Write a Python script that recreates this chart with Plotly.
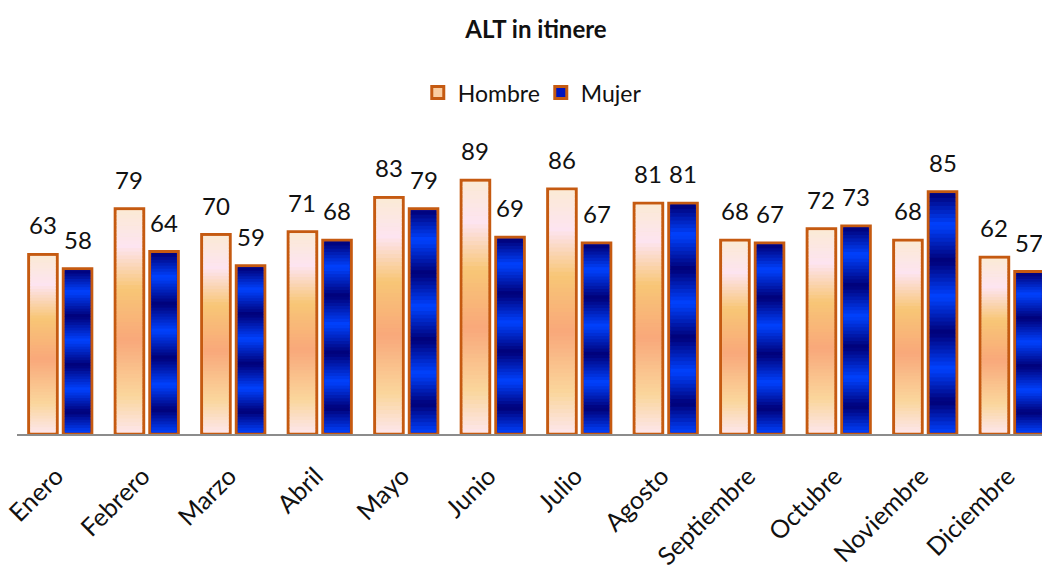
import plotly.graph_objects as go

months = ["Enero", "Febrero", "Marzo", "Abril", "Mayo", "Junio", "Julio",
          "Agosto", "Septiembre", "Octubre", "Noviembre", "Diciembre"]
hombre = [63, 79, 70, 71, 83, 89, 86, 81, 68, 72, 68, 62]
mujer = [58, 64, 59, 68, 79, 69, 67, 81, 67, 73, 85, 57]

# gradient stops (t = 0 top of bar, 1 bottom)
hombre_stops = [(0.00, (251, 234, 214)), (0.16, (253, 228, 240)), (0.35, (248, 198, 118)),
                (0.58, (249, 168, 122)), (0.83, (250, 214, 156)), (1.00, (253, 230, 236))]
DARK, BRIGHT = (0, 0, 120), (0, 66, 255)
mujer_stops = [(0.00, DARK), (0.13, BRIGHT), (0.28, DARK), (0.43, BRIGHT), (0.58, DARK),
               (0.73, BRIGHT), (0.87, DARK), (1.00, BRIGHT)]

OUTLINE = "#C55A11"
FONT = "Lato"
N = 60
BAR_W = 0.33
CENTER = {"H": -0.2, "M": 0.2}
INSET_X = 0.018
INSET_Y = 0.5
OVERLAP = 0.25


def grad(stops, t):
    for (t0, c0), (t1, c1) in zip(stops[:-1], stops[1:]):
        if t0 <= t <= t1:
            f = (t - t0) / (t1 - t0)
            c = [round(a + (b - a) * f) for a, b in zip(c0, c1)]
            return f"rgb({c[0]},{c[1]},{c[2]})"
    c = stops[-1][1]
    return f"rgb({c[0]},{c[1]},{c[2]})"


xs = list(range(len(months)))
fig = go.Figure()


def add_series(name, key, vals, stops, legend_color):
    off = CENTER[key] - BAR_W / 2
    fig.add_trace(go.Bar(
        x=xs, y=vals, base=0, name=name, offset=off, width=BAR_W,
        marker=dict(color=legend_color, line=dict(color=OUTLINE, width=3)),
        hovertemplate=name + ": %{y}<extra></extra>", cliponaxis=True))
    for k in range(N):
        t = 1 - (k + 0.5) / N
        ov = OVERLAP if k > 0 else 0
        fig.add_trace(go.Bar(
            x=xs,
            y=[(v - 2 * INSET_Y) / N + ov for v in vals],
            base=[INSET_Y + (v - 2 * INSET_Y) * k / N - ov for v in vals],
            offset=off + INSET_X, width=BAR_W - 2 * INSET_X,
            marker=dict(color=grad(stops, t), line=dict(width=0)),
            showlegend=False, hoverinfo="skip"))


add_series("Hombre", "H", hombre, hombre_stops, "rgb(250,205,160)")
add_series("Mujer", "M", mujer, mujer_stops, "rgb(0,20,190)")

for key, vals in (("H", hombre), ("M", mujer)):
    for i, v in enumerate(vals):
        fig.add_annotation(x=i + CENTER[key], y=v, text=str(v), showarrow=False,
                           yanchor="bottom", yshift=13,
                           font=dict(family=FONT, size=24, color="#111111"))

W, H = 1042, 570
fig.update_layout(
    width=W, height=H,
    barmode="overlay",
    paper_bgcolor="white", plot_bgcolor="white",
    margin=dict(l=17, r=0, t=149, b=133),
    title=dict(text="<b>ALT in itinere</b>", x=536 / W, xref="container", xanchor="center",
               y=1 - 30 / H, yref="container", yanchor="middle",
               font=dict(family=FONT, size=24, color="#111111")),
    legend=dict(orientation="h", x=0.511, xanchor="center", y=1.198, yanchor="middle",
                font=dict(family=FONT, size=23, color="#111111"),
                entrywidth=78, entrywidthmode="pixels",
                itemclick=False, itemdoubleclick=False),
    showlegend=True,
    font=dict(family=FONT),
)
fig.update_xaxes(range=[-0.5, 11.35], tickvals=xs, ticktext=months, tickangle=-45,
                 showline=True, linecolor="#8c8c8c", linewidth=1.5, showgrid=False,
                 zeroline=False, ticks="", ticklabelstandoff=16, ticklabelshift=-4,
                 ticklabeloverflow="allow",
                 tickfont=dict(family=FONT, size=25, color="#111111"))
fig.update_yaxes(range=[0, 100], visible=False, showgrid=False, zeroline=False)

fig.write_html(
    "out.html",
    config={"displayModeBar": False},
    post_script="document.body.style.margin='0';document.body.style.overflow='hidden';",
)
